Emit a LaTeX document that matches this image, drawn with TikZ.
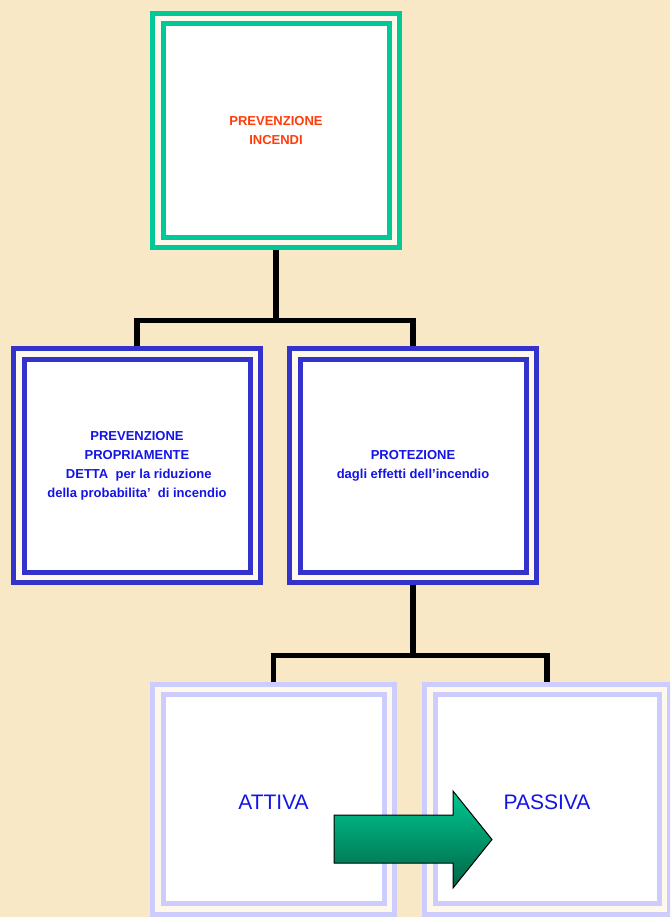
\documentclass[tikz,border=0pt]{standalone}
\usepackage{fontspec}
\setmainfont{Liberation Sans}
\definecolor{bgc}{HTML}{F8E8C6}
\definecolor{gapc}{HTML}{FFF9EC}
\definecolor{greenb}{HTML}{00C896}
\definecolor{blueb}{HTML}{3333CC}
\definecolor{lavb}{HTML}{CCCCFF}
\definecolor{orangetxt}{HTML}{FF3C0A}
\definecolor{bluetxt}{HTML}{1414E6}
\definecolor{arrtop}{HTML}{00C890}
\definecolor{arrbot}{HTML}{006446}
\tikzset{
  dbox/.style={rectangle, fill=white, line width=5pt, double=gapc, double distance=5.5pt,
    outer sep=7.75pt, inner sep=0pt, align=center},
  smalltxt/.style={font=\fontsize{13}{19}\selectfont\bfseries},
  bigtxt/.style={font=\fontsize{21}{25}\selectfont, text=bluetxt, text height=21pt},
  conn/.style={draw=black, line width=5.5pt},
  arrowshape/.style={draw=black, line width=1pt, line join=miter, top color=arrtop, bottom color=arrbot},
}
\begin{document}
\begin{tikzpicture}[x=1pt,y=-1pt]
\clip (0,0) rectangle (670,917);
\useasboundingbox (0,0) rectangle (670,917);
\fill[bgc] (0,0) rectangle (670,917);

% top box
\node[dbox, draw=greenb, minimum width=236.5pt, minimum height=223.8pt, smalltxt, text=orangetxt]
  (top) at (276,130.35) {PREVENZIONE\\INCENDI};

% middle boxes
\node[dbox, draw=blueb, minimum width=236.5pt, minimum height=223.5pt, smalltxt, text=bluetxt]
  (prev) at (137,465.5) {PREVENZIONE\\PROPRIAMENTE\\\ DETTA\ \ per la riduzione\\della probabilita’\ \ di incendio};
\node[dbox, draw=blueb, minimum width=236.5pt, minimum height=223.5pt, smalltxt, text=bluetxt]
  (prot) at (413,465.5) {PROTEZIONE\\dagli effetti dell’incendio};

% bottom boxes
\node[dbox, draw=lavb, minimum width=231.5pt, minimum height=219.8pt, bigtxt]
  (att) at (273.5,799.3) {ATTIVA};
\node[dbox, draw=lavb, minimum width=234.5pt, minimum height=219.8pt, bigtxt]
  (pas) at (547,799.3) {PASSIVA};

% connectors
\coordinate (j1) at (276,320.5);
\draw[conn] (top.south) -- (j1);
\draw[conn] (prev.north) |- (j1) -| (prot.north);
\coordinate (j2) at (413,655.5);
\draw[conn] (prot.south) -- (j2);
\draw[conn] (att.north) |- (j2) -| (pas.north);

% block arrow
\shade[arrowshape] (334,815) -- (453,815) -- (453,791) -- (492,839.5) -- (453,888)
  -- (453,863) -- (334,863) -- cycle;
\end{tikzpicture}
\end{document}
